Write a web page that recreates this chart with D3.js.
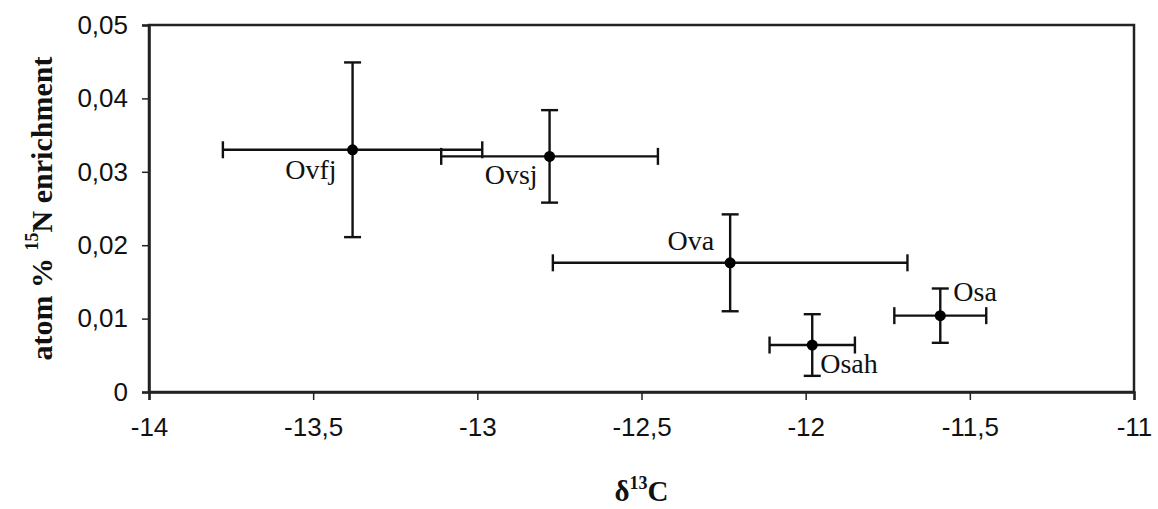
<!DOCTYPE html>
<html>
<head>
<meta charset="utf-8">
<script src="https://cdn.jsdelivr.net/npm/d3@7"></script>
<style>
  body { margin: 0; background: #fff; }
  svg { display: block; }
</style>
</head>
<body>
<div id="chart"></div>
<script>
// sample names and values
const names = ["Ovfj", "Ovsj", "Ova", "Osah", "Osa"];
const d13C = [-13.38, -12.78, -12.23, -11.98, -11.59];
const d13CErr = [0.395, 0.33, 0.54, 0.13, 0.14];
const n15 = [0.0330, 0.0321, 0.0176, 0.0064, 0.0104];
const n15Err = [0.0119, 0.0063, 0.0066, 0.0042, 0.0037];

const xTicks = [-14, -13.5, -13, -12.5, -12, -11.5, -11];
const yTicks = [0, 0.01, 0.02, 0.03, 0.04, 0.05];

// where each label sits next to its point
const labelPos = {
  Ovfj: { anchor: "end", dx: -16, dy: 29 },
  Ovsj: { anchor: "end", dx: -12, dy: 28 },
  Ova:  { anchor: "end", dx: -16, dy: -13 },
  Osah: { anchor: "start", dx: 8, dy: 28 },
  Osa:  { anchor: "start", dx: 13, dy: -15 }
};

(function() {
  const width = 1158, height = 509;
  const margin = { top: 25, right: 24, bottom: 117, left: 149 };
  const w = width - margin.left - margin.right,
        h = height - margin.top - margin.bottom;

  const data = names.map((n, i) => ({
    name: n, x: d13C[i], xe: d13CErr[i], y: n15[i], ye: n15Err[i]
  }));

  const x = d3.scaleLinear().domain([-14, -11]).range([0, w]);
  const y = d3.scaleLinear().domain([0, 0.05]).range([h, 0]);

  const svg = d3.select("#chart").append("svg")
      .attr("width", width)
      .attr("height", height);
  const g = svg.append("g").attr("transform", `translate(${margin.left},${margin.top})`);

  // frame
  g.append("rect")
    .attr("width", w).attr("height", h)
    .attr("fill", "none").attr("stroke", "#222").attr("stroke-width", 2.5);

  // axes
  const xAxis = g.append("g")
    .attr("transform", `translate(0,${h})`)
    .call(d3.axisBottom(x).tickValues(xTicks).tickSizeOuter(0).tickSize(8).tickPadding(18)
      .tickFormat(d => String(d).replace(".", ",")));
  const yAxis = g.append("g")
    .call(d3.axisLeft(y).tickValues(yTicks).tickSizeOuter(0).tickSize(7).tickPadding(14)
      .tickFormat(d => d === 0 ? "0" : d.toFixed(2).replace(".", ",")));

  [xAxis, yAxis].forEach(a => {
    a.select(".domain").attr("stroke", "#222").attr("stroke-width", 2.5);
    a.selectAll(".tick line").attr("stroke", "#222").attr("stroke-width", 1.5);
    a.selectAll(".tick text")
      .attr("fill", "#111")
      .style("font-family", "'Liberation Sans', Arial, sans-serif")
      .style("font-size", "26px");
  });

  const cap = 8.5;
  const bars = g.append("g").attr("stroke", "#111").attr("stroke-width", 2.4).attr("fill", "none");

  // horizontal error bars
  data.forEach(d => {
    const cy = y(d.y), x0 = x(d.x - d.xe), x1 = x(d.x + d.xe);
    bars.append("line").attr("x1", x0).attr("x2", x1).attr("y1", cy).attr("y2", cy);
    bars.append("line").attr("x1", x0).attr("x2", x0).attr("y1", cy - cap).attr("y2", cy + cap);
    bars.append("line").attr("x1", x1).attr("x2", x1).attr("y1", cy - cap).attr("y2", cy + cap);
  });

  // vertical error bars
  data.forEach(d => {
    const cx = x(d.x), y0 = y(d.y - d.ye), y1 = y(d.y + d.ye);
    bars.append("line").attr("x1", cx).attr("x2", cx).attr("y1", y0).attr("y2", y1);
    bars.append("line").attr("x1", cx - cap).attr("x2", cx + cap).attr("y1", y0).attr("y2", y0);
    bars.append("line").attr("x1", cx - cap).attr("x2", cx + cap).attr("y1", y1).attr("y2", y1);
  });

  g.selectAll("circle.pt")
    .data(data)
    .join("circle")
    .attr("class", "pt")
    .attr("cx", d => x(d.x))
    .attr("cy", d => y(d.y))
    .attr("r", 5.5)
    .attr("fill", "#000");

  g.selectAll("text.lbl")
    .data(data)
    .join("text")
    .attr("class", "lbl")
    .attr("x", d => x(d.x) + labelPos[d.name].dx)
    .attr("y", d => y(d.y) + labelPos[d.name].dy)
    .attr("text-anchor", d => labelPos[d.name].anchor)
    .style("font-family", "'Liberation Serif', 'Times New Roman', serif")
    .style("font-size", "28px")
    .attr("fill", "#111")
    .text(d => d.name);

  // axis titles
  const serif = "'Liberation Serif', 'Times New Roman', serif";
  const xt = svg.append("text")
    .attr("x", margin.left + w / 2)
    .attr("y", 501)
    .attr("text-anchor", "middle")
    .style("font-family", serif).style("font-size", "29px").style("font-weight", "bold")
    .attr("fill", "#111");
  xt.append("tspan").text("δ");
  xt.append("tspan").attr("dy", -12).style("font-size", "18px").text("13");
  xt.append("tspan").attr("dy", 12).text("C");

  const yt = svg.append("text")
    .attr("transform", `translate(52,${margin.top + h / 2}) rotate(-90)`)
    .attr("text-anchor", "middle")
    .style("font-family", serif).style("font-size", "30px").style("font-weight", "bold")
    .attr("fill", "#111");
  yt.append("tspan").text("atom % ");
  yt.append("tspan").attr("dy", -14).style("font-size", "18px").text("15");
  yt.append("tspan").attr("dy", 14).text("N enrichment");
})();
</script>
</body>
</html>
